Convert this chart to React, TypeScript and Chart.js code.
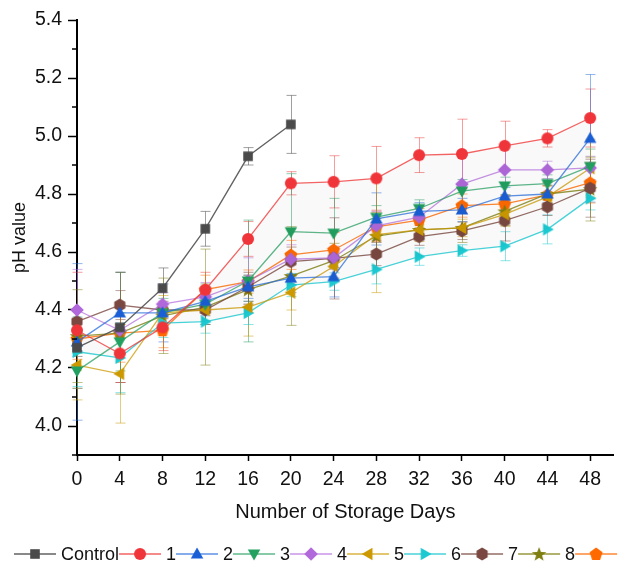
import React, { useEffect, useRef } from "react";
import { Chart, registerables } from "chart.js";
Chart.register(...registerables);

// ---------- data ----------
const days = [0, 4, 8, 12, 16, 20, 24, 28, 32, 36, 40, 44, 48];
const controlDays = [0, 4, 8, 12, 16, 20];
const xTicks = [0, 4, 8, 12, 16, 20, 24, 28, 32, 36, 40, 44, 48];
const yTicks = [4.0, 4.2, 4.4, 4.6, 4.8, 5.0, 5.2, 5.4];
const yMinorTicks = [3.9, 4.1, 4.3, 4.5, 4.7, 4.9, 5.1, 5.3];

const seriesNames = ["Control", "1", "2", "3", "4", "5", "6", "7", "8", "9"];

const control = [4.27, 4.34, 4.475, 4.68, 4.93, 5.04];
const s1 = [4.33, 4.25, 4.34, 4.47, 4.645, 4.837, 4.842, 4.854, 4.934, 4.938, 4.966, 4.992, 5.062];
const s2 = [4.29, 4.39, 4.39, 4.43, 4.48, 4.51, 4.515, 4.714, 4.74, 4.745, 4.793, 4.8, 4.992];
const s3 = [4.19, 4.29, 4.39, 4.42, 4.5, 4.67, 4.665, 4.72, 4.75, 4.81, 4.828, 4.836, 4.895];
const s4 = [4.4, 4.33, 4.42, 4.445, 4.5, 4.575, 4.58, 4.69, 4.72, 4.834, 4.883, 4.883, 4.89];
const s5 = [4.21, 4.18, 4.39, 4.4, 4.41, 4.46, 4.55, 4.66, 4.676, 4.683, 4.73, 4.79, 4.889];
const s6 = [4.256, 4.235, 4.355, 4.36, 4.39, 4.486, 4.498, 4.54, 4.584, 4.605, 4.62, 4.678, 4.785];
const s7 = [4.36, 4.417, 4.4, 4.4, 4.48, 4.567, 4.578, 4.593, 4.653, 4.673, 4.708, 4.756, 4.82];
const s8 = [4.31, 4.32, 4.38, 4.41, 4.47, 4.517, 4.57, 4.655, 4.676, 4.683, 4.74, 4.8, 4.817];
const s9 = [4.3, 4.32, 4.33, 4.47, 4.498, 4.59, 4.607, 4.687, 4.71, 4.76, 4.766, 4.797, 4.839];

const controlErr = [0.03, 0.19, 0.07, 0.06, 0.03, 0.1];
const e1 = [0.2, 0.1, 0.08, 0.06, 0.06, 0.04, 0.09, 0.11, 0.06, 0.12, 0.085, 0.03, 0.1];
const e2 = [0.27, 0.14, 0.1, 0.05, 0.04, 0.05, 0.07, 0.09, 0.03, 0.04, 0.03, 0.03, 0.22];
const e3 = [0.06, 0.1, 0.05, 0.07, 0.21, 0.2, 0.12, 0.04, 0.03, 0.04, 0.03, 0.03, 0.06];
const e4 = [0.14, 0.08, 0.04, 0.05, 0.08, 0.05, 0.04, 0.05, 0.04, 0.1, 0.09, 0.03, 0.04];
const e5 = [0.12, 0.17, 0.06, 0.04, 0.1, 0.06, 0.05, 0.2, 0.04, 0.03, 0.04, 0.04, 0.1];
const e6 = [0.12, 0.12, 0.05, 0.04, 0.04, 0.04, 0.03, 0.05, 0.03, 0.02, 0.05, 0.05, 0.04];
const e7 = [0.04, 0.05, 0.03, 0.05, 0.05, 0.05, 0.14, 0.04, 0.03, 0.03, 0.07, 0.03, 0.1];
const e8 = [0.16, 0.21, 0.13, 0.2, 0.05, 0.17, 0.06, 0.06, 0.03, 0.05, 0.05, 0.04, 0.11];
const e9 = [0.07, 0.1, 0.06, 0.05, 0.04, 0.05, 0.06, 0.05, 0.04, 0.04, 0.03, 0.03, 0.07];

// ---------- styles ----------
const markerColors = ["#4a4a4a", "#f0353a", "#1a5fd6", "#22a060", "#b068db", "#cc9900", "#1cc9d1", "#7a4840", "#7f7f10", "#ff6a00"];
const lineColors = ["rgba(80,80,80,0.9)", "rgba(240,60,60,0.8)", "rgba(40,110,220,0.75)", "rgba(40,160,100,0.75)", "rgba(176,104,219,0.7)", "rgba(204,153,0,0.75)", "rgba(28,201,209,0.8)", "rgba(122,72,64,0.8)", "rgba(127,127,16,0.8)", "rgba(255,106,0,0.8)"];
const errColors = ["rgba(80,80,80,0.55)", "rgba(240,60,60,0.5)", "rgba(40,110,220,0.5)", "rgba(40,160,100,0.5)", "rgba(176,104,219,0.5)", "rgba(204,153,0,0.5)", "rgba(28,201,209,0.5)", "rgba(122,72,64,0.5)", "rgba(127,127,16,0.5)", "rgba(255,106,0,0.5)"];
const shapes = ["square", "circle", "triUp", "triDown", "diamond", "triLeft", "triRight", "hexagon", "star", "pentagon"];

const FONT = "Arial, 'Liberation Sans', sans-serif";

function polygon(ctx: CanvasRenderingContext2D, cx: number, cy: number, r: number, n: number, startDeg: number) {
  ctx.beginPath();
  for (let i = 0; i < n; i++) {
    const a = ((startDeg + (360 / n) * i) * Math.PI) / 180;
    const px = cx + r * Math.cos(a);
    const py = cy + r * Math.sin(a);
    if (i === 0) ctx.moveTo(px, py);
    else ctx.lineTo(px, py);
  }
  ctx.closePath();
}

function makeMarker(shape: string, color: string): HTMLCanvasElement {
  const c = document.createElement("canvas");
  c.width = 18;
  c.height = 18;
  const ctx = c.getContext("2d")!;
  const cx = 9, cy = 9;
  ctx.fillStyle = color;
  switch (shape) {
    case "square":
      ctx.beginPath();
      ctx.rect(cx - 4.8, cy - 4.8, 9.6, 9.6);
      break;
    case "circle":
      ctx.beginPath();
      ctx.arc(cx, cy, 6, 0, Math.PI * 2);
      break;
    case "triUp":
      polygon(ctx, cx, cy + 0.8, 7.2, 3, -90);
      break;
    case "triDown":
      polygon(ctx, cx, cy - 0.8, 7.2, 3, 90);
      break;
    case "triLeft":
      polygon(ctx, cx + 0.8, cy, 7.2, 3, 180);
      break;
    case "triRight":
      polygon(ctx, cx - 0.8, cy, 7.2, 3, 0);
      break;
    case "diamond":
      polygon(ctx, cx, cy, 6.8, 4, -90);
      break;
    case "hexagon":
      polygon(ctx, cx, cy, 6.4, 6, -90);
      break;
    case "pentagon":
      polygon(ctx, cx, cy + 0.4, 6.8, 5, -90);
      break;
    case "star": {
      ctx.beginPath();
      for (let i = 0; i < 10; i++) {
        const r = i % 2 === 0 ? 7.6 : 3.2;
        const a = ((-90 + 36 * i) * Math.PI) / 180;
        const px = cx + r * Math.cos(a);
        const py = cy + 0.6 + r * Math.sin(a);
        if (i === 0) ctx.moveTo(px, py);
        else ctx.lineTo(px, py);
      }
      ctx.closePath();
      break;
    }
  }
  ctx.fill();
  return c;
}

const errorBarPlugin = {
  id: "errorBars",
  beforeDatasetsDraw(chart: any) {
    const { ctx, scales } = chart;
    const x = scales.x, y = scales.y;
    ctx.save();
    chart.data.datasets.forEach((ds: any, i: number) => {
      const errs: number[] = ds.errors;
      ctx.strokeStyle = errColors[i];
      ctx.lineWidth = 1;
      ds.data.forEach((p: any, j: number) => {
        const px = Math.round(x.getPixelForValue(p.x)) + 0.5;
        const top = y.getPixelForValue(p.y + errs[j]);
        const bot = y.getPixelForValue(p.y - errs[j]);
        ctx.beginPath();
        ctx.moveTo(px, top);
        ctx.lineTo(px, bot);
        ctx.moveTo(px - 5, top);
        ctx.lineTo(px + 5, top);
        ctx.moveTo(px - 5, bot);
        ctx.lineTo(px + 5, bot);
        ctx.stroke();
      });
    });
    ctx.restore();
  },
};

const minorTickPlugin = {
  id: "minorTicks",
  afterDraw(chart: any) {
    const { ctx, scales, chartArea } = chart;
    ctx.save();
    ctx.strokeStyle = "#000";
    ctx.lineWidth = 1.5;
    yMinorTicks.forEach((v) => {
      const py = scales.y.getPixelForValue(v);
      ctx.beginPath();
      ctx.moveTo(chartArea.left - 5, py);
      ctx.lineTo(chartArea.left, py);
      ctx.stroke();
    });
    ctx.restore();
  },
};

const legendPlugin = {
  id: "originLegend",
  afterDraw(chart: any) {
    const { ctx } = chart;
    const markers: HTMLCanvasElement[] = chart.options.plugins.originLegend.markers;
    ctx.save();
    ctx.font = `18px ${FONT}`;
    ctx.textBaseline = "middle";
    ctx.fillStyle = "#111";
    const yc = 554;
    let xPos = 14;
    seriesNames.forEach((name, i) => {
      ctx.strokeStyle = lineColors[i];
      ctx.lineWidth = 1.5;
      ctx.beginPath();
      ctx.moveTo(xPos, yc);
      ctx.lineTo(xPos + 42, yc);
      ctx.stroke();
      const m = markers[i];
      ctx.drawImage(m, xPos + 21 - m.width / 2, yc - m.height / 2);
      xPos += 47;
      ctx.fillText(name, xPos, yc + 1);
      xPos += ctx.measureText(name).width;
    });
    ctx.restore();
  },
};

export default function App() {
  const ref = useRef<HTMLCanvasElement | null>(null);

  useEffect(() => {
    if (!ref.current) return;
    const markers = shapes.map((s, i) => makeMarker(s, markerColors[i]));
    const allValues = [control, s1, s2, s3, s4, s5, s6, s7, s8, s9];
    const allErrs = [controlErr, e1, e2, e3, e4, e5, e6, e7, e8, e9];

    const datasets: any[] = allValues.map((vals, i) => {
      const xs = i === 0 ? controlDays : days;
      return {
        label: seriesNames[i],
        data: vals.map((v, j) => ({ x: xs[j], y: v })),
        errors: allErrs[i],
        borderColor: lineColors[i],
        backgroundColor: markerColors[i],
        borderWidth: 1.3,
        pointStyle: markers[i],
        pointRadius: 6,
        pointHoverRadius: 6,
        tension: 0,
        fill: false,
        clip: false,
      };
    });
    // light shaded band between series 1 and series 6
    datasets[1].fill = { target: 6 };
    datasets[1].backgroundColor = "rgba(0,0,0,0.025)";
    datasets[1].pointBackgroundColor = markerColors[1];

    Chart.defaults.font.family = FONT;
    Chart.defaults.font.size = 18;
    Chart.defaults.color = "#111";

    const chart = new Chart(ref.current, {
      type: "line",
      data: { datasets },
      plugins: [errorBarPlugin, minorTickPlugin, legendPlugin],
      options: {
        responsive: false,
        animation: false,
        layout: { padding: { left: 0, right: 1, top: 20, bottom: 0 } },
        plugins: {
          legend: { display: false },
          tooltip: { enabled: false },
          originLegend: { markers },
        } as any,
        scales: {
          x: {
            type: "linear",
            min: 0,
            max: 50.2,
            afterBuildTicks: (scale: any) => {
              scale.ticks = xTicks.map((v) => ({ value: v }));
            },
            afterFit: (scale: any) => {
              scale.height = 107;
            },
            ticks: {
              padding: 7,
              maxRotation: 0,
              autoSkip: false,
              color: "#111",
              font: { size: 19.5 },
              callback: (v: any) => String(v),
            },
            grid: {
              drawOnChartArea: false,
              drawTicks: true,
              tickLength: 6,
              tickColor: "#000",
              tickWidth: 1.5,
            },
            border: { display: true, color: "#000", width: 2 },
            title: {
              display: true,
              text: "Number of Storage Days",
              color: "#111",
              font: { size: 20 },
              padding: { top: 0, bottom: 38 },
            },
          },
          y: {
            type: "linear",
            min: 3.9,
            max: 5.4,
            afterBuildTicks: (scale: any) => {
              scale.ticks = yTicks.map((v) => ({ value: v }));
            },
            afterFit: (scale: any) => {
              scale.width = 77;
            },
            ticks: {
              padding: 6,
              color: "#111",
              font: { size: 19.5 },
              callback: (v: any) => Number(v).toFixed(1),
            },
            grid: {
              drawOnChartArea: false,
              drawTicks: true,
              tickLength: 9,
              tickColor: "#000",
              tickWidth: 1.5,
            },
            border: { display: true, color: "#000", width: 2 },
            title: {
              display: true,
              text: "pH value",
              color: "#111",
              font: { size: 18 },
              padding: { top: 9, bottom: 0 },
            },
          },
        },
      } as any,
    });
    return () => chart.destroy();
  }, []);

  return (
    <div style={{ position: "fixed", left: 0, top: 0, width: 621, height: 562, background: "#fff" }}>
      <canvas ref={ref} width={621} height={562} />
    </div>
  );
}
